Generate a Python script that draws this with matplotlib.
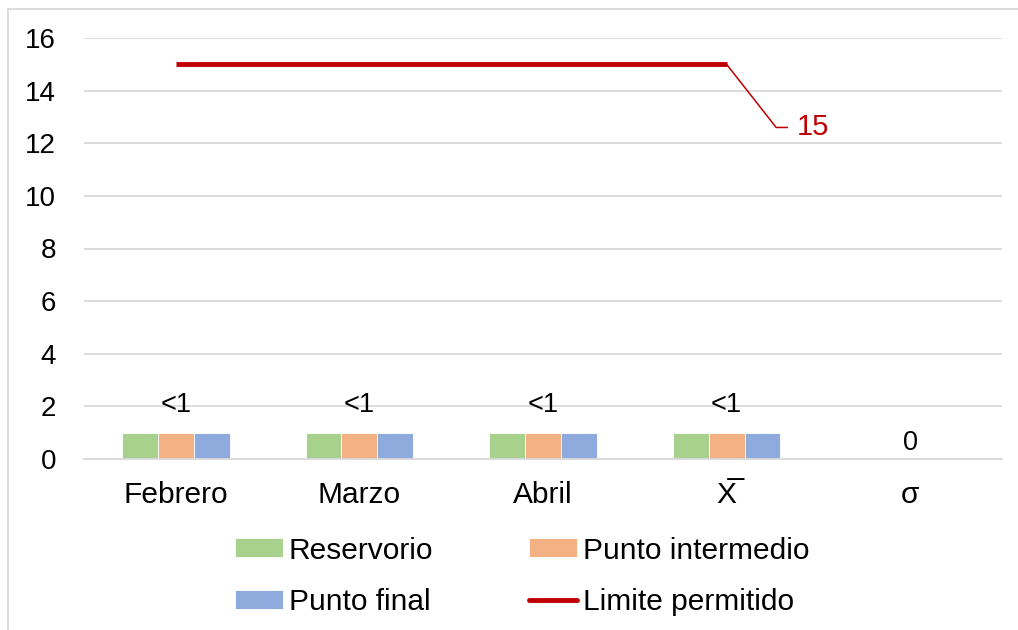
import numpy as np
import matplotlib
matplotlib.use("Agg")
import matplotlib.pyplot as plt
from matplotlib.patches import Rectangle

plt.rcParams['font.family'] = ['Liberation Sans', 'DejaVu Sans']

# data
categorias = ['Febrero', 'Marzo', 'Abril', 'X\u0305', '\u03c3']
reservorio = [1, 1, 1, 1, 0]
intermedio = [1, 1, 1, 1, 0]
final = [1, 1, 1, 1, 0]
etiquetas = ['<1', '<1', '<1', '<1', '0']
etiqueta_y = [2.05, 2.05, 2.05, 2.05, 0.6]
limite = [15, 15, 15, 15]
series = ['Reservorio', 'Punto intermedio', 'Punto final', 'Limite permitido']

c_green = '#A9D18E'
c_orange = '#F4B183'
c_blue = '#8FAADC'
c_red = '#C00000'
c_grid = '#D9D9D9'

fig = plt.figure(figsize=(10.18, 6.3), dpi=100)
ax = fig.add_axes([84 / 1018, 1 - 459 / 630, (1002 - 84) / 1018, (459 - 38) / 630])

x = np.arange(len(categorias))
w = 0.195
b1 = ax.bar(x - w, reservorio, w, color=c_green, label=series[0], edgecolor='white', linewidth=0.6)
b2 = ax.bar(x, intermedio, w, color=c_orange, label=series[1], edgecolor='white', linewidth=0.6)
b3 = ax.bar(x + w, final, w, color=c_blue, label=series[2], edgecolor='white', linewidth=0.6)
xl = np.arange(len(limite))
ln, = ax.plot(xl, limite, color=c_red, lw=3.5, solid_capstyle='butt', label=series[3])

for xi, t, yy in zip(x, etiquetas, etiqueta_y):
    ax.text(xi, yy, t, ha='center', va='center', fontsize=19.5)

# label for the limit line with leader
xe, ye = xl[-1], limite[-1]
ax.plot([xe, xe + 0.27, xe + 0.33], [ye, ye - 2.4, ye - 2.4], color=c_red, lw=1.1)
ax.text(xe + 0.38, ye - 2.4, str(ye), color=c_red, ha='left', va='center', fontsize=21)

ax.set_xlim(-0.5, len(categorias) - 0.5)
ax.set_ylim(0, 16)
ax.set_yticks(range(0, 17, 2))
ax.set_xticks(x)
ax.set_xticklabels(categorias, fontsize=21.5)
ax.tick_params(axis='both', length=0)
ax.tick_params(axis='y', pad=20, labelsize=20)
ax.tick_params(axis='x', pad=16)
ax.grid(axis='y', color=c_grid, lw=1.3)
ax.set_axisbelow(True)
for s in ['top', 'right', 'left']:
    ax.spines[s].set_visible(False)
ax.spines['bottom'].set_color(c_grid)
ax.spines['bottom'].set_linewidth(1.3)

from matplotlib.lines import Line2D
ln_leg = Line2D([], [], color=c_red, lw=3.5, solid_capstyle='round')
handles = [b1, b3, b2, ln_leg]
labels = [series[0], series[2], series[1], series[3]]
leg = fig.legend(handles, labels, loc='center', bbox_to_anchor=(0.513, 0.085), ncol=2, frameon=False,
                 fontsize=21.5, handlelength=1.6, handleheight=0.6, handletextpad=0.2,
                 columnspacing=3.2, labelspacing=0.8)

fig.patches.append(Rectangle((8 / 1018, -0.1), 1.2, 1 - 9 / 630 + 0.1, transform=fig.transFigure,
                             fill=False, edgecolor=c_grid, lw=1.3))

fig.savefig('out.png', dpi=100)
